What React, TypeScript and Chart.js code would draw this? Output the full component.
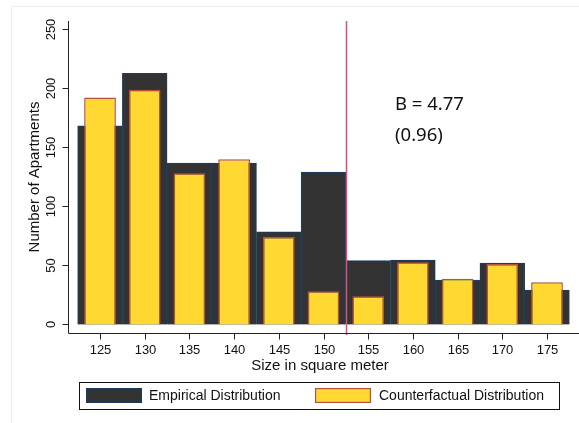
import { useEffect, useRef } from "react";
import { Chart, registerables } from "chart.js";

Chart.register(...registerables);

const sizes = [125, 130, 135, 140, 145, 150, 155, 160, 165, 170, 175];
const empirical = [168, 212.5, 136.5, 136.5, 78.5, 129, 54, 54.6, 37.6, 52, 29.2];
const counterfactual = [192, 198.7, 128, 139.8, 74, 28.2, 24, 52.6, 38.8, 51.2, 35.7];
const yTicks = [0, 50, 100, 150, 200, 250];
const cutoff = 152.5;
const annotationLines = ["B = 4.77", "(0.96)"];
const legendLabels = ["Empirical Distribution", "Counterfactual Distribution"];
const xTitle = "Size in square meter";
const yTitle = "Number of Apartments";

const EMP_FILL = "#333333";
const EMP_BORDER = "#1d3d5e";
const CF_FILL = "#ffd932";
const CF_BORDER = "#b5533c";
const FAMILY = "'Liberation Sans', Arial, sans-serif";

const overlay = {
  id: "overlay",
  afterDatasetsDraw(chart: any) {
    const { ctx, chartArea, scales } = chart;
    const x = scales.x;
    const y = scales.y;
    ctx.save();
    const px = Math.round(x.getPixelForValue(cutoff)) + 0.5;
    ctx.strokeStyle = "#d9507a";
    ctx.lineWidth = 1.5;
    ctx.beginPath();
    ctx.moveTo(px, chartArea.top);
    ctx.lineTo(px, chartArea.bottom + 2);
    ctx.stroke();

    ctx.font = "18.5px 'Noto Sans', 'Open Sans', sans-serif";
    ctx.fillStyle = "#111111";
    ctx.textAlign = "left";
    ctx.textBaseline = "middle";
    ctx.fillText(annotationLines[0], x.getPixelForValue(158), y.getPixelForValue(186));
    ctx.fillText(annotationLines[1], x.getPixelForValue(158), y.getPixelForValue(160));
    ctx.restore();
  },
  afterDraw(chart: any) {
    const { ctx, chartArea, scales } = chart;
    const x = scales.x;
    const y = scales.y;
    ctx.save();

    // faint outer frame
    ctx.strokeStyle = "#eceeee";
    ctx.lineWidth = 1;
    ctx.beginPath();
    ctx.moveTo(11.5, 423);
    ctx.lineTo(11.5, 6.5);
    ctx.lineTo(579, 6.5);
    ctx.stroke();

    // axes
    ctx.strokeStyle = "#222222";
    ctx.lineWidth = 1;
    const left = chartArea.left - 0.5;
    const bottom = chartArea.bottom + 0.5;
    ctx.beginPath();
    ctx.moveTo(left, chartArea.top);
    ctx.lineTo(left, bottom);
    ctx.lineTo(chartArea.right, bottom);
    ctx.stroke();

    ctx.fillStyle = "#111111";
    ctx.font = `13px ${FAMILY}`;
    // y ticks
    for (const v of yTicks) {
      const py = Math.round(y.getPixelForValue(v)) + 0.5;
      ctx.beginPath();
      ctx.moveTo(left - 6, py);
      ctx.lineTo(left, py);
      ctx.stroke();
      ctx.save();
      ctx.translate(51, py);
      ctx.rotate(-Math.PI / 2);
      ctx.textAlign = "center";
      ctx.textBaseline = "middle";
      ctx.fillText(String(v), 0, 0);
      ctx.restore();
    }
    // x ticks
    ctx.textAlign = "center";
    ctx.textBaseline = "middle";
    for (const v of sizes) {
      const px = Math.round(x.getPixelForValue(v)) + 0.5;
      ctx.beginPath();
      ctx.moveTo(px, bottom);
      ctx.lineTo(px, bottom + 6);
      ctx.stroke();
      ctx.fillText(String(v), px, 350);
    }
    // titles
    ctx.font = `15px ${FAMILY}`;
    ctx.fillText(xTitle, 320, 366);
    ctx.save();
    ctx.translate(35, 177);
    ctx.rotate(-Math.PI / 2);
    ctx.fillText(yTitle, 0, 0);
    ctx.restore();

    // legend
    ctx.font = `14px ${FAMILY}`;
    ctx.strokeStyle = "#111111";
    ctx.lineWidth = 1;
    ctx.strokeRect(79.5, 382.5, 480, 27);
    const items = [
      { sx: 86, tx: 149, fill: EMP_FILL, border: EMP_BORDER, label: legendLabels[0] },
      { sx: 315, tx: 379, fill: CF_FILL, border: CF_BORDER, label: legendLabels[1] },
    ];
    for (const it of items) {
      ctx.fillStyle = it.fill;
      ctx.fillRect(it.sx, 388, 56, 15);
      ctx.strokeStyle = it.border;
      ctx.lineWidth = 1.2;
      ctx.strokeRect(it.sx + 0.6, 388.6, 54.8, 13.8);
      ctx.fillStyle = "#111111";
      ctx.textAlign = "left";
      ctx.fillText(it.label, it.tx, 396);
    }
    ctx.restore();
  },
};

export default function App() {
  const ref = useRef<HTMLCanvasElement | null>(null);
  useEffect(() => {
    if (!ref.current) return;
    const chart = new Chart(ref.current, {
      type: "bar",
      data: {
        datasets: [
          {
            label: legendLabels[1],
            data: sizes.map((s, i) => ({ x: s, y: counterfactual[i] })),
            backgroundColor: CF_FILL,
            borderColor: CF_BORDER,
            borderWidth: 1.5,
            barPercentage: 0.71,
            categoryPercentage: 1,
            grouped: false,
            order: 1,
          } as any,
          {
            label: legendLabels[0],
            data: sizes.map((s, i) => ({ x: s, y: empirical[i] })),
            backgroundColor: EMP_FILL,
            borderColor: EMP_BORDER,
            borderWidth: 1.2,
            barPercentage: 1,
            categoryPercentage: 1,
            grouped: false,
            order: 2,
          } as any,
        ],
      },
      options: {
        animation: false,
        responsive: false,
        devicePixelRatio: 1,
        layout: { padding: { left: 69, top: 21, right: 0, bottom: 90 } },
        plugins: { legend: { display: false }, tooltip: { enabled: false } },
        scales: {
          x: { type: "linear", display: false, offset: false, min: 121.53, max: 178.58 },
          y: { type: "linear", display: false, min: -7.2, max: 256.8 },
        },
      },
      plugins: [overlay],
    });
    return () => chart.destroy();
  }, []);
  return (
    <div style={{ position: "fixed", left: 0, top: 0, width: 579, height: 423, background: "#ffffff" }}>
      <canvas ref={ref} width={579} height={423} />
    </div>
  );
}
